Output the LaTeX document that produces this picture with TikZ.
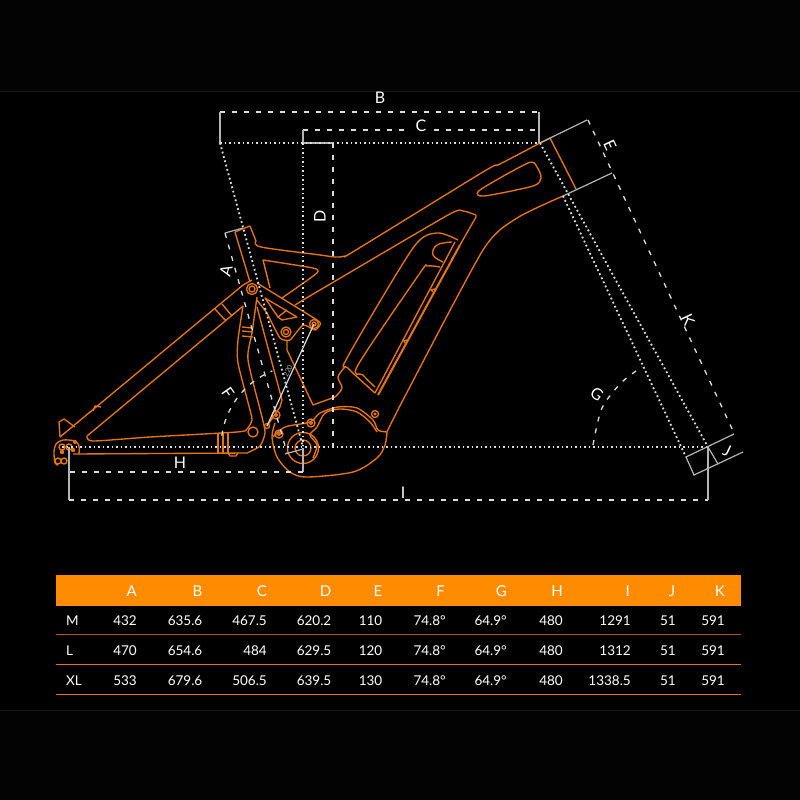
\documentclass[tikz,border=0pt]{standalone}
\usepackage{fontspec}
\setmainfont{Lato}
\definecolor{framecol}{HTML}{E8750A}
\definecolor{headcol}{HTML}{FF8C00}
\definecolor{dimcol}{HTML}{DCDCDC}
\definecolor{solidcol}{HTML}{B4B4B4}
\definecolor{outercol}{HTML}{030303}
\definecolor{edgecol}{HTML}{161616}
\tikzset{
    framel/.style={draw=framecol, line width=1.35pt, line join=round},
    dimdash/.style={draw=dimcol, line width=1.3pt, dash pattern=on 5pt off 7pt},
    dimdot/.style={draw=dimcol, line width=1.8pt, dash pattern=on 1.8pt off 2.7pt},
    dimsolid/.style={draw=solidcol, line width=1.2pt},
    dimlabel/.style={text=white, font=\fontsize{16}{16}\selectfont, inner sep=0pt},
    cell/.style={text=white, font=\fontsize{13.5}{14}\selectfont, inner sep=0pt, anchor=base east},
    headcell/.style={text=white, font=\fontsize{15}{15}\selectfont, inner sep=0pt, anchor=base east},
}
\begin{document}
\begin{tikzpicture}[x=1pt, y=-1pt]
    \useasboundingbox (0,0) rectangle (800,800);
    \fill[outercol] (0,0) rectangle (800,800);
    \fill[black] (0,91) rectangle (800,710);
    \draw[edgecol] (0,91) -- (800,91);
    \draw[edgecol] (0,710) -- (800,710);

    % Chain stay and seat stay
    \draw[framel] (60,437) -- (243,285) -- (252,280);
    \draw[framel] plot[smooth, tension=.4] coordinates {
            (243,306) (238,340) (238,363) (250,410) (252,420) (247,429) (237,432) (150,437) (93,441) (87,436)
    };
    \draw[framel] (87,436) -- (242,307) -- (243,306);
    \draw[framel] plot[smooth, tension=.4] coordinates {
            (257,297) (252,333) (248,360) (262,417) (265,433) (260,446) (247,453)
    };
    \draw[framel] (247,453) -- (73,454);
    \draw[framel] (215,309) -- (226,321);
    \draw[framel] (222,304) -- (232,316);
    \draw[framel] (218,433) -- (218,453);
    \draw[framel] (223,433) -- (223,453);
    \draw[framel] (228,433) -- (228,453);
    \draw[framel] (228,453) -- (230,456) -- (236,456) -- (238,453);
    \draw[framel] (242,327) -- (252,328);
    \draw[framel] (242,331) -- (253,332);
    \draw[framel] (242,336) -- (253,337);
    \draw[framel] (253,432) circle[radius=5];
    \draw[framel] (93,411) -- (95,406) -- (101,407);

    % Dropout
    \draw[framel] plot[smooth, tension=.5] coordinates {
            (79,454) (79,446) (75,441) (63,440) (56,444) (54,452) (55,463) (58,465)
    };
    \draw[framel] (60,437) -- (59,422) -- (64,419) -- (75,427);
    \draw[framel] (58,461) circle[radius=3];
    \draw[framel] (64,461) circle[radius=3];
    \draw[framel] (62,447) circle[radius=3];
    \draw[framel] (69,447) circle[radius=3];
    \fill[framecol] (75,442) circle[radius=2];
    \fill[framecol] (73,450) circle[radius=2.2];
    \fill[framecol] (62,452) circle[radius=2.2];

    % Seat tube and top tube
    \draw[framel] (235,232) -- (250,282);
    \draw[framel] (250,226) -- (256,241);
    \draw[framel] plot[smooth, tension=.5] coordinates {
            (256,241) (261,247) (320,255) (335,257) (345,256) (356,250) (483,172) (500,164) (540,143)
    };
    \draw[framel] (235,232) -- (250,226);
    \draw[framel] plot[smooth, tension=.3] coordinates {
            (263,260) (313,268) (317,273) (282,298)
    };
    \draw[framel] (263,260) -- (270,288);

    % Head tube
    \draw[framel] (550,138) -- (576,189);
    \draw[framel] (540,143) -- (550,138);
    \draw[framel] plot[smooth cycle, tension=.45] coordinates {
            (480,190) (528,163) (537,167) (541,178) (533,186) (484,196)
    };

    % Down tube and battery
    \draw[framel] plot[smooth, tension=.4] coordinates {
            (563,196) (517,218) (483,250) (403,400) (387,432)
    };
    \draw[framel] plot[smooth, tension=.35] coordinates {
            (295,305) (320,290) (448,215) (463,211) (476,215)
    };
    \draw[framel] (476,215) -- (476,217) -- (460,245);
    \draw[framel] plot[smooth, tension=.45] coordinates {
            (458,240) (437,233) (413,248) (347,358) (348,368) (375,393)
    };
    \draw[framel, line width=2pt] (378,395) -- (460,245);
    \draw[framel] (375,393) -- (455,242);
    \draw[framel] plot[smooth, tension=.5] coordinates {
            (375,387) (363,375) (358,365) (420,273) (427,266) (440,267)
    };
    \draw[framel] plot[smooth, tension=.7] coordinates {
            (443,262) (433,255) (437,245) (452,242)
    };
    \draw[framel] (433,292) -- (431,290) -- (435,289);
    \draw[framel] (405,343) -- (404,341) -- (407,340);

    % Rocker and links
    \draw[framel] plot[smooth, tension=.3] coordinates {
            (257,283) (317,320) (320,325) (315,330) (303,325) (290,340) (280,338) (267,313)
    };
    \draw[framel] (257,307) -- (282,400) -- (280,407) -- (267,426);
    \draw[framel] (267,313) -- (257,300);
    \draw[framel] (265,298) -- (297,317) -- (282,320) -- (278,317) -- cycle;
    \draw[framel] (278,317) -- (287,310);
    \draw[framel] (287,340) -- (287,350) -- (313,405) -- (335,397);
    \draw[framel] plot[smooth, tension=.6] coordinates {
            (335,397) (342,388) (338,377) (345,367)
    };

    % Motor
    \draw[framel] plot[smooth, tension=.5] coordinates {
            (275,423) (272,437) (277,457) (290,472) (307,477) (353,472) (377,458) (385,445) (387,432)
    };
    \draw[framel] plot[smooth, tension=.5] coordinates {
            (273,437) (285,427) (310,422) (320,413) (338,407) (357,408) (373,420) (378,430) (387,432)
    };
    \draw[framel] plot[smooth, tension=.5] coordinates {
            (313,458) (317,445) (310,435) (317,427) (325,413) (340,409) (357,412) (370,422) (377,432)
    };
    \draw[framel] (303,448) circle[radius=8];
    \draw[framel] (303,448) circle[radius=15.5];

    % Pivots
    \foreach \px/\py/\pr in {252/289/5.5, 286/332/5, 314/324/4.5, 276/415/4, 267/426/2.5, 279/434/4, 311/423/4, 375/414/3.5} {
        \draw[framel] (\px,\py) circle[radius=\pr];
        \draw[framel] (\px,\py) circle[radius=\pr-2.5];
    }

    % Dimension lines
    \draw[dimdash] (220,112) -- (539,112);
    \draw[dimdash] (303,130) -- (407,130);
    \draw[dimdash] (434,130) -- (539,130);
    \draw[dimsolid] (220,112) -- (220,143);
    \draw[dimsolid] (539,112) -- (539,143);
    \draw[dimsolid] (303,130) -- (303,143) -- (333,143);
    \draw[dimdot] (220,143) -- (539,143);
    \draw[dimdot] (303,143) -- (303,447);
    \draw[dimdash] (333,143) -- (333,447);
    \draw[dimdot] (62,447) -- (708,447);
    \draw[dimdot] (220,143) -- (303,447);

    \draw[dimsolid] (225,233) -- (243,228);
    \draw[dimdash] (225,233) -- (287,453);
    \draw[dimsolid] (285,454) -- (303,449);
    \draw[dimdash] plot[domain=172:112, samples=30] ({303+82*cos(\x)},{447-82*sin(\x)});

    \draw[dimsolid] (69,447) -- (69,500);
    \draw[dimsolid] (303,448) -- (303,472);
    \draw[dimdash] (70,472) -- (303,472);
    \draw[dimdash] (69,500) -- (708,500);

    \draw[dimsolid] (540,143) -- (587,120);
    \draw[dimsolid] (563,196) -- (612,173);
    \draw[dimdash] (588,120) -- (734,433);
    \draw[dimdot] (540,143) -- (708,447);
    \draw[dimdot] (563,196) -- (686,457);
    \draw[dimsolid] (686,457) -- (734,434);
    \draw[dimsolid] (686,457) -- (694,475) -- (743,452);
    \draw[dimsolid] (708,447) -- (718,464);
    \draw[dimsolid] (708,447) -- (708,500);
    \draw[dimdash] plot[smooth] coordinates {
            (593,445)
            (602,408)
            (622,382)
            (642,367)
    };

    % Shock
    \draw[dimsolid, draw=white!85!black] (314,324) -- (267,426);
    \node[text=solidcol, font=\fontsize{7}{7}\selectfont, rotate=65, inner sep=0pt] (shocklabel) at (288,371) {220};

    % Labels
    \node[dimlabel] (labelB) at (380,98) {B};
    \node[dimlabel] (labelC) at (421,126) {C};
    \node[dimlabel, rotate=90] (labelD) at (320,216) {D};
    \node[dimlabel, rotate=-65] (labelE) at (610,145) {E};
    \node[dimlabel, rotate=75] (labelA) at (226,271) {A};
    \node[dimlabel, rotate=-55] (labelF) at (228,393) {F};
    \node[dimlabel, rotate=-35] (labelG) at (597,394) {G};
    \node[dimlabel] (labelH) at (180,463) {H};
    \node[dimlabel] (labelI) at (403,493) {I};
    \node[dimlabel, rotate=-25] (labelJ) at (727,451) {J};
    \node[dimlabel, rotate=-65] (labelK) at (688,320) {K};

    % Table
    \fill[headcol] (56,575) rectangle (741,606);
    \draw[draw=framecol!75!black, line width=1.4pt] (56,634.5) -- (741,634.5);
    \draw[draw=framecol, line width=1.2pt] (56,664.5) -- (741,664.5);
    \draw[draw=framecol, line width=1.2pt] (56,694.5) -- (741,694.5);

    \foreach \hname/\hx in {A/137, B/202.5, C/267, D/331.5, E/382.5, F/445, G/507, H/563, I/630, J/675.5, K/725} {
        \node[headcell] (head\hname) at (\hx,596) {\hname};
    }
    \foreach \rowname/\rowy/\va/\vb/\vc/\vd/\ve/\vi in {
            M/625/432/635.6/467.5/620.2/110/1291,
            L/655/470/654.6/484/629.5/120/1312,
            XL/685/533/679.6/506.5/639.5/130/1338.5} {
        \node[cell, anchor=base west] (row\rowname) at (66,\rowy) {\rowname};
        \node[cell] (a\rowname) at (137,\rowy) {\va};
        \node[cell] (b\rowname) at (202.5,\rowy) {\vb};
        \node[cell] (c\rowname) at (267,\rowy) {\vc};
        \node[cell] (d\rowname) at (331.5,\rowy) {\vd};
        \node[cell] (e\rowname) at (382.5,\rowy) {\ve};
        \node[cell] (f\rowname) at (446,\rowy) {74.8°};
        \node[cell] (g\rowname) at (507,\rowy) {64.9°};
        \node[cell] (h\rowname) at (563,\rowy) {480};
        \node[cell] (i\rowname) at (631,\rowy) {\vi};
        \node[cell] (j\rowname) at (676,\rowy) {51};
        \node[cell] (k\rowname) at (725,\rowy) {591};
    }
\end{tikzpicture}
\end{document}
